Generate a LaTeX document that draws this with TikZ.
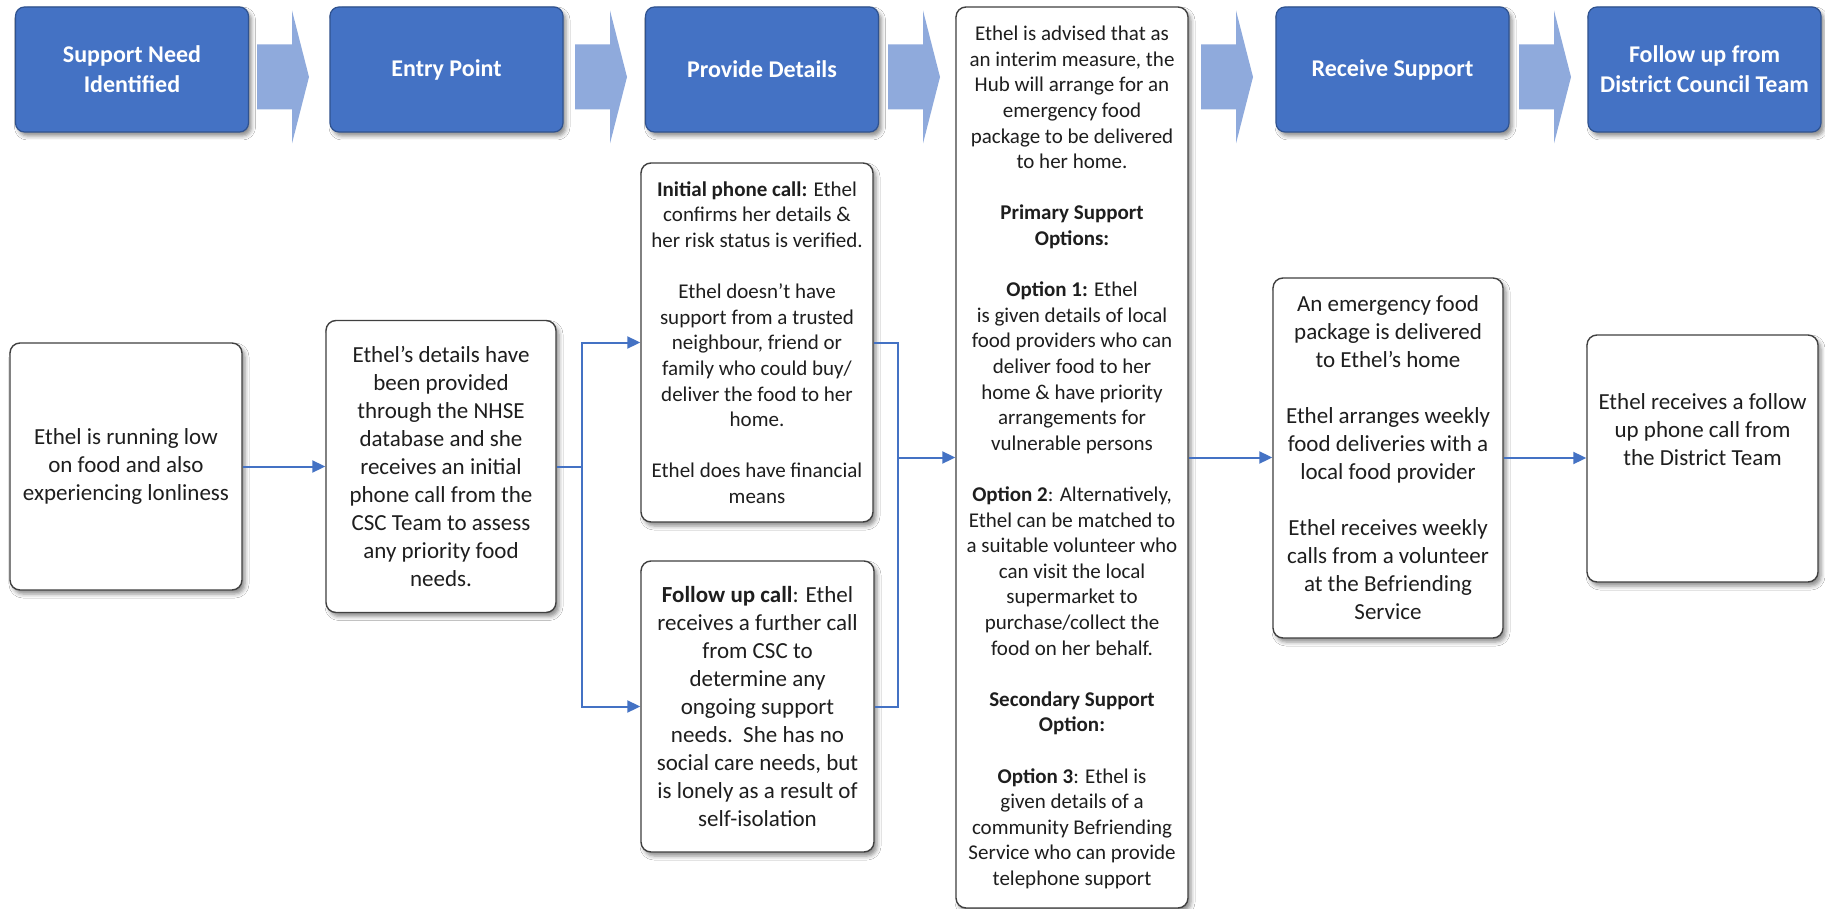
\documentclass[tikz,border=0pt]{standalone}
\usepackage{fontspec}
\setmainfont{Carlito}
\usetikzlibrary{arrows.meta,shadows.blur}
\definecolor{phaseblue}{HTML}{4472C4}
\definecolor{phaseedge}{HTML}{2F528F}
\definecolor{chevblue}{HTML}{8FAADC}
\definecolor{cardedge}{HTML}{404040}
\definecolor{ink}{HTML}{1E1E1E}
\definecolor{linkblue}{HTML}{4472C4}

\begin{document}
\begin{tikzpicture}[x=1pt,y=-1pt,
  softshadow/.style={blur shadow={shadow xshift=3pt,shadow yshift=-4pt,shadow blur radius=4pt,shadow opacity=45}},
  phase/.style={draw=phaseedge,line width=1.2pt,fill=phaseblue,rounded corners=9pt,
    minimum width=233pt,minimum height=125pt,text=white,align=center,
    font=\bfseries\fontsize{24}{30}\selectfont,softshadow},
  card/.style={draw=cardedge,line width=1.4pt,fill=white,rounded corners=10pt,
    align=center,text=ink,inner sep=2pt,softshadow},
  bodytext/.style={font=\fontsize{23}{28}\selectfont},
  densetext/.style={font=\fontsize{21}{25.6}\selectfont},
  flow/.style={draw=linkblue,line width=2pt,-{Triangle[length=13pt,width=12pt]}},
  link/.style={draw=linkblue,line width=2pt},
  chev/.pic={\fill[chevblue] (0,-32.5) -- (35,-32.5) -- (35,-66.5) -- (52,0)
    -- (35,66.5) -- (35,32.5) -- (0,32.5) -- cycle;}
]
\fill[white] (0,0) rectangle (1825,909);
\useasboundingbox (0,0) rectangle (1825,909);

% stage headers
\node[phase] (p1) at (132,69.5) {Support Need\\Identified};
\node[phase] (p2) at (446.5,69.5) {Entry Point};
\node[phase] (p3) at (762,69.5) {Provide Details};
\node[phase] (p5) at (1392.5,69.5) {Receive Support};
\node[phase] (p6) at (1704.5,69.5) {Follow up from\\District Council Team};

% block arrows between stages
\pic at (257,77) {chev};
\pic at (575,77) {chev};
\pic at (888,77) {chev};
\pic at (1201,77) {chev};
\pic at (1519,77) {chev};

% process cards
\node[card,bodytext,minimum width=232pt,minimum height=247pt] (A) at (126,466.5)
  {Ethel is running low\\on food and also\\experiencing lonliness};

\node[card,bodytext,minimum width=230pt,minimum height=292pt] (B) at (441,466.5)
  {Ethel’s details have\\been provided\\through the NHSE\\database and she\\receives an initial\\phone call from the\\CSC Team to assess\\any priority food\\needs.};

\node[card,densetext,minimum width=232pt,minimum height=359pt] (C) at (757,342.5)
  {\textbf{Initial phone call:} Ethel\\confirms her details \&\\her risk status is verified.\\[25.6pt]
   Ethel doesn’t have\\support from a trusted\\neighbour, friend or\\family who could buy/\\deliver the food to her\\home.\\[25.6pt]
   Ethel does have financial\\means};

\node[card,bodytext,minimum width=233pt,minimum height=291pt] (D) at (757.5,706.5)
  {\textbf{Follow up call}: Ethel\\receives a further call\\from CSC to\\determine any\\ongoing support\\needs.\ \ She has no\\social care needs, but\\is lonely as a result of\\self-isolation};

\node[card,densetext,minimum width=232pt,minimum height=901pt] (E) at (1072,457.5)
  {Ethel is advised that as\\an interim measure, the\\Hub will arrange for an\\emergency food\\package to be delivered\\to her home.\\[25.6pt]
   \textbf{Primary Support}\\\textbf{Options:}\\[25.6pt]
   \textbf{Option 1:} Ethel\\is given details of local\\food providers who can\\deliver food to her\\home \& have priority\\arrangements for\\vulnerable persons\\[25.6pt]
   \textbf{Option 2}: Alternatively,\\Ethel can be matched to\\a suitable volunteer who\\can visit the local\\supermarket to\\purchase/collect the\\food on her behalf.\\[25.6pt]
   \textbf{Secondary Support}\\\textbf{Option:}\\[25.6pt]
   \textbf{Option 3}: Ethel is\\given details of a\\community Befriending\\Service who can provide\\telephone support};

\node[card,bodytext,minimum width=230pt,minimum height=360pt] (F) at (1388,458)
  {An emergency food\\package is delivered\\to Ethel’s home\\[28pt]
   Ethel arranges weekly\\food deliveries with a\\local food provider\\[28pt]
   Ethel receives weekly\\calls from a volunteer\\at the Befriending\\Service};

\node[card,minimum width=231pt,minimum height=247pt] (G) at (1702.5,458.5) {};
\node[bodytext,text=ink,align=center] (Gtext) at (1702.5,430)
  {Ethel receives a follow\\up phone call from\\the District Team};

% connectors
\coordinate (split) at (582,466.5);
\coordinate (merge) at (898,457.5);
\draw[flow] (A.east) -- (B.west);
\draw[link] (B.east) -- (split);
\draw[flow] (split) |- (C.west);
\draw[flow] (split) |- (D.west);
\draw[link] (C.east) -| (merge);
\draw[link] (D.east) -| (merge);
\draw[flow] (merge) -- (E.west);
\draw[flow] (E.east) -- (E.east -| F.west);
\draw[flow] (F.east) -- (F.east -| G.west);
\end{tikzpicture}
\end{document}
